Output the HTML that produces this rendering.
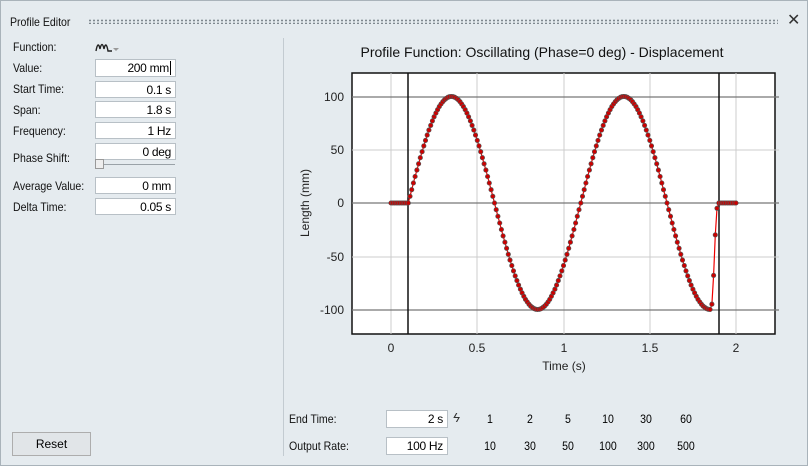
<!DOCTYPE html>
<html><head><meta charset="utf-8"><style>
body{margin:0;width:811px;height:469px;background:#fff;overflow:hidden;font-family:"Liberation Sans",sans-serif;}
#win{position:absolute;left:0;top:0;width:806px;height:464px;background:#e5ebef;border:1px solid #a9b3ba;}
.t{position:absolute;font-size:12px;color:#111;white-space:nowrap;transform:scaleX(0.88);transform-origin:left center;}
.box{position:absolute;background:#fff;border:1px solid #b8c0c6;box-sizing:border-box;font-size:12px;text-align:right;padding-right:4px;line-height:16px;letter-spacing:-0.3px;}
.n{position:absolute;font-size:12px;transform:translateX(-50%) scaleX(0.88);}
</style></head><body>
<div id="win"></div>
<div class="t" style="left:10px;top:15px;">Profile Editor</div>
<div style="position:absolute;left:88px;top:19px;width:690px;height:5px;background-image:radial-gradient(circle,#7f888f 0.9px,transparent 1.1px);background-size:4px 3px;"></div>
<div style="position:absolute;left:787px;top:10px;font-size:16px;color:#333;">✕</div>
<div style="position:absolute;left:283px;top:38px;width:1px;height:418px;background:#c3cbd1;"></div>

<div class="t" style="left:13px;top:40px;">Function:</div>
<svg style="position:absolute;left:95px;top:39px" width="26" height="16"><path d="M1 12 Q3 1 5 10 Q7 1 9 10 Q11 1 13 12 L17 12" fill="none" stroke="#222" stroke-width="1.4"/><path d="M18 9 L24 9 L21 12Z" fill="#999"/></svg>
<div class="t" style="left:13px;top:61px;">Value:</div>
<div class="box" style="left:95px;top:59px;width:81px;height:18px;">200 mm<span style="border-left:1px solid #000;margin-left:1px"></span></div>
<div class="t" style="left:13px;top:82px;">Start Time:</div>
<div class="box" style="left:95px;top:81px;width:81px;height:17px;">0.1 s</div>
<div class="t" style="left:13px;top:103px;">Span:</div>
<div class="box" style="left:95px;top:101px;width:81px;height:17px;">1.8 s</div>
<div class="t" style="left:13px;top:124px;">Frequency:</div>
<div class="box" style="left:95px;top:122px;width:81px;height:17px;">1 Hz</div>
<div class="t" style="left:13px;top:151px;">Phase Shift:</div>
<div class="box" style="left:95px;top:143px;width:81px;height:17px;">0 deg</div>
<div style="position:absolute;left:97px;top:164px;width:78px;height:1px;background:#9aa2a8;"></div>
<div style="position:absolute;left:95px;top:159px;width:9px;height:10px;background:#eee;border:1px solid #999;box-sizing:border-box;"></div>
<div class="t" style="left:13px;top:179px;">Average Value:</div>
<div class="box" style="left:95px;top:177px;width:81px;height:17px;">0 mm</div>
<div class="t" style="left:13px;top:200px;">Delta Time:</div>
<div class="box" style="left:95px;top:198px;width:81px;height:17px;">0.05 s</div>
<div style="position:absolute;left:12px;top:432px;width:79px;height:24px;background:#e1e5e8;border:1px solid #adadad;box-sizing:border-box;font-size:12px;text-align:center;line-height:22px;">Reset</div>

<div class="t" style="left:289px;top:412px;">End Time:</div>
<div class="box" style="left:386px;top:410px;width:62px;height:18px;">2 s</div>
<div style="position:absolute;left:453px;top:410px;font-size:13px;color:#333;font-style:italic;">ϟ</div>
<div class="t" style="left:289px;top:439px;">Output Rate:</div>
<div class="box" style="left:386px;top:437px;width:62px;height:18px;">100 Hz</div>
<div class="n" style="left:490px;top:412px">1</div><div class="n" style="left:530px;top:412px">2</div><div class="n" style="left:568px;top:412px">5</div><div class="n" style="left:608px;top:412px">10</div><div class="n" style="left:646px;top:412px">30</div><div class="n" style="left:686px;top:412px">60</div>
<div class="n" style="left:490px;top:439px">10</div><div class="n" style="left:530px;top:439px">30</div><div class="n" style="left:568px;top:439px">50</div><div class="n" style="left:608px;top:439px">100</div><div class="n" style="left:646px;top:439px">300</div><div class="n" style="left:686px;top:439px">500</div>

<svg id="p" style="position:absolute;left:0;top:0" width="811" height="469" font-family="Liberation Sans, sans-serif">
<text x="542" y="57" font-size="14" text-anchor="middle" fill="#111">Profile Function: Oscillating (Phase=0 deg) - Displacement</text>
<rect x="352" y="73" width="423" height="261" fill="#fff" stroke="#111" stroke-width="1.5"/>
<g stroke="#ccc" stroke-width="1">
<line x1="391" y1="73" x2="391" y2="334"/><line x1="477" y1="73" x2="477" y2="334"/><line x1="564" y1="73" x2="564" y2="334"/><line x1="650" y1="73" x2="650" y2="334"/><line x1="736" y1="73" x2="736" y2="334"/>
<line x1="352" y1="150" x2="779" y2="150"/><line x1="352" y1="257" x2="779" y2="257"/>
</g>
<g stroke="#777" stroke-width="1.3">
<line x1="352" y1="97" x2="779" y2="97"/><line x1="352" y1="203" x2="779" y2="203"/><line x1="352" y1="310" x2="779" y2="310"/>
</g>
<g stroke="#111" stroke-width="1.5"><line x1="408" y1="73" x2="408" y2="334"/><line x1="719" y1="73" x2="719" y2="334"/></g>
<g font-size="12" fill="#222" text-anchor="middle">
<text x="391" y="352">0</text><text x="477" y="352">0.5</text><text x="564" y="352">1</text><text x="650" y="352">1.5</text><text x="736" y="352">2</text>
<text x="564" y="370">Time (s)</text>
</g>
<g font-size="12" fill="#222" text-anchor="end">
<text x="344" y="101">100</text><text x="344" y="154">50</text><text x="344" y="207">0</text><text x="344" y="261">-50</text><text x="344" y="314">-100</text>
</g>
<text transform="translate(309,203) rotate(-90)" font-size="12" fill="#222" text-anchor="middle">Length (mm)</text>
<polyline id="ln" fill="none" stroke="#e00" stroke-width="1.2"/>
<g id="pts" fill="#c00" stroke="#555" stroke-width="0.7"></g>
</svg>
<script>
var X=function(t){return 391+t*172.5},Y=function(v){return 203-v*1.065};
var tail={186:-95,187:-68,188:-30,189:-5};
var pts=[],s='';
for(var i=0;i<=200;i++){var t=i/100,v;
if(i<=10||i>=190)v=0;else if(tail[i]!==undefined)v=tail[i];else v=100*Math.sin(2*Math.PI*(t-0.1));
var x=X(t),y=Y(v);pts.push(x.toFixed(1)+','+y.toFixed(1));
s+='<circle cx="'+x.toFixed(1)+'" cy="'+y.toFixed(1)+'" r="2.2"/>';}
document.getElementById('ln').setAttribute('points',pts.join(' '));
document.getElementById('pts').innerHTML=s;
</script>
</body></html>
